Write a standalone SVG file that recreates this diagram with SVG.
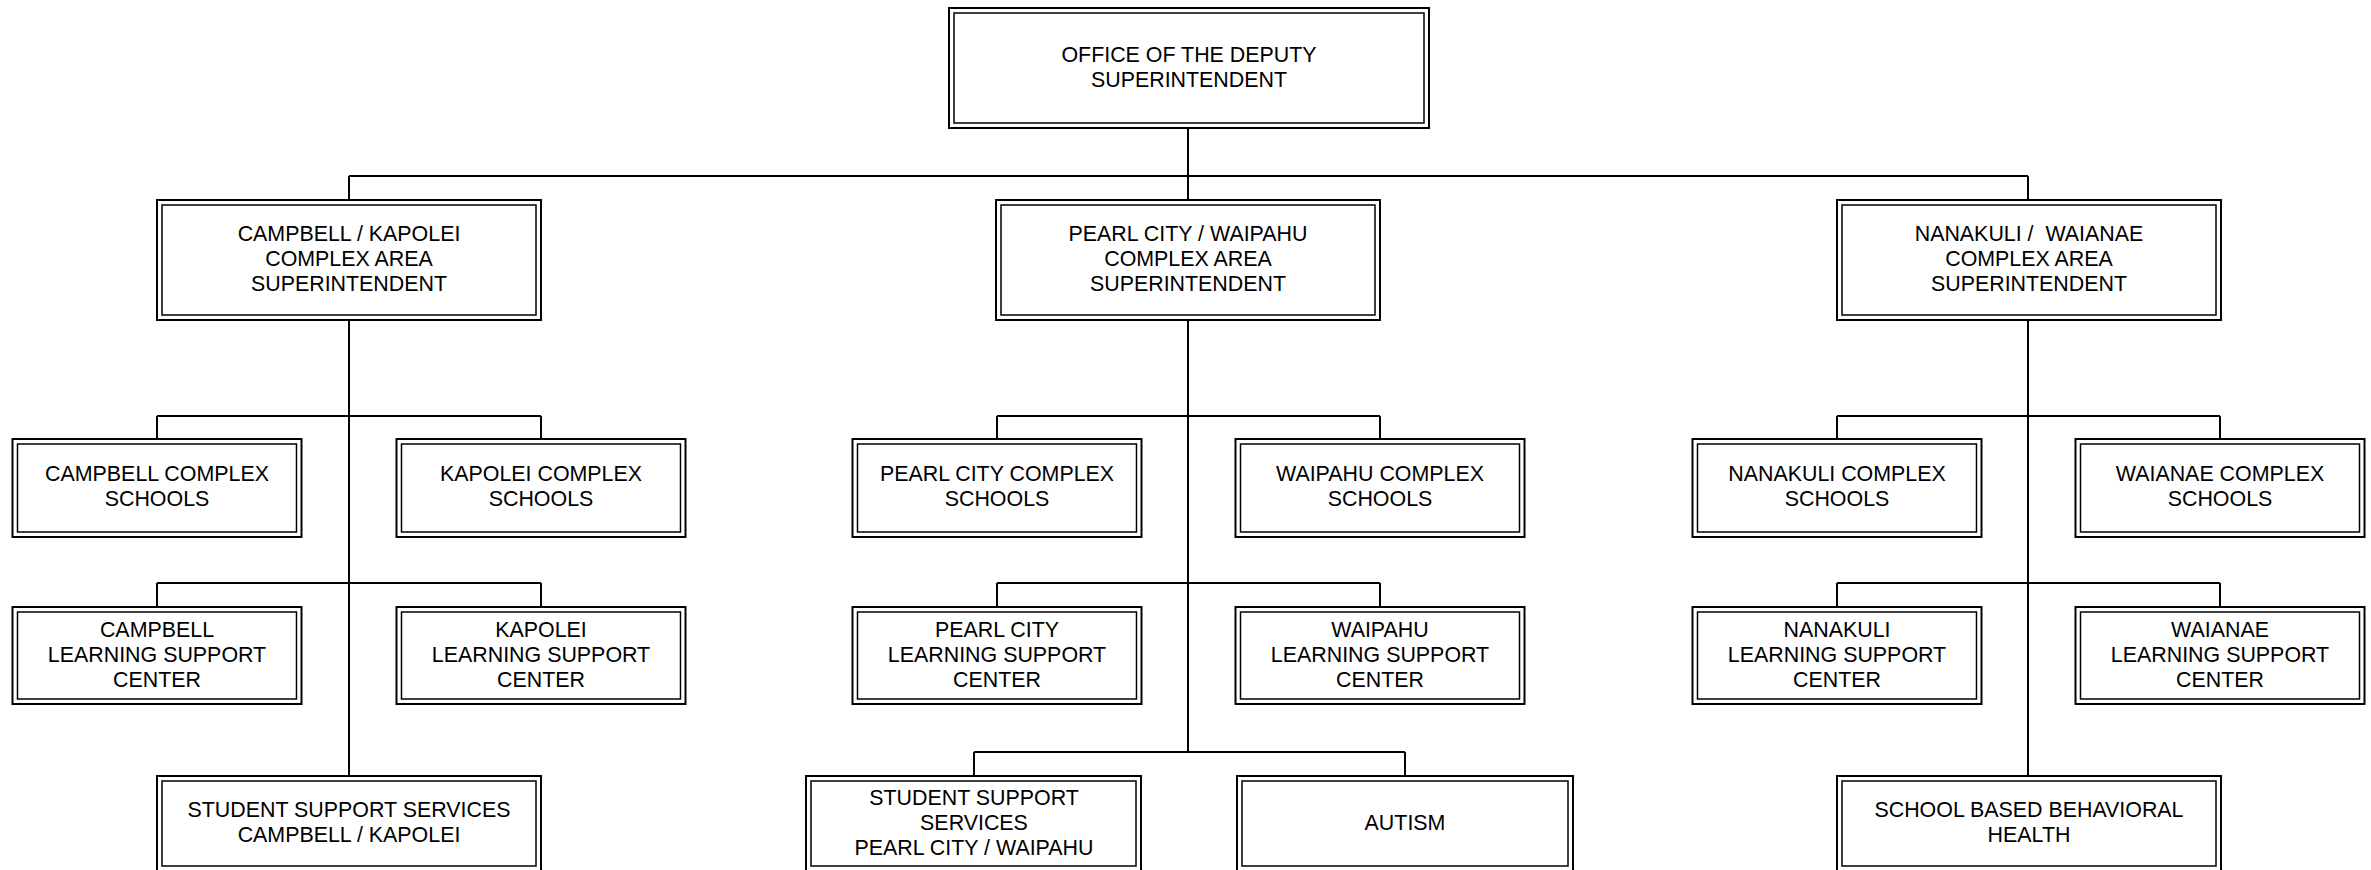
<svg xmlns="http://www.w3.org/2000/svg" width="2371" height="870" viewBox="0 0 2371 870">
<style>
.o{fill:#fff;stroke:#000;stroke-width:2}
.i{fill:none;stroke:#000;stroke-width:1.5}
.c{fill:none;stroke:#000;stroke-width:2}
text{font-family:"Liberation Sans",Arial,sans-serif;font-size:21.4px;fill:#000;text-anchor:middle}
</style>
<rect width="2371" height="870" fill="#fff"/>
<g id="connectors" class="c">
<path d="M1188 128V176M349 176H2028M349 176V200M1188 176V200M2028 176V200"/>
<path d="M349 320V776M157 416H541M157 416V439M541 416V439M157 583H541M157 583V607M541 583V607"/>
<path d="M1188 320V752M997 416H1380M997 416V439M1380 416V439M997 583H1380M997 583V607M1380 583V607M974 752H1405M974 752V776M1405 752V776"/>
<path d="M2028 320V776M1837 416H2220M1837 416V439M2220 416V439M1837 583H2220M1837 583V607M2220 583V607"/>
</g>
<g id="deputy"><rect class="o" x="949" y="8" width="480" height="120"/><rect class="i" x="954" y="13" width="470" height="110"/><text x="1189" y="62">OFFICE OF THE DEPUTY</text><text x="1189" y="87">SUPERINTENDENT</text></g>

<g id="campbell-kapolei"><rect class="o" x="157" y="200" width="384" height="120"/><rect class="i" x="162" y="205" width="374" height="110"/><text x="349" y="241">CAMPBELL / KAPOLEI</text><text x="349" y="266">COMPLEX AREA</text><text x="349" y="291">SUPERINTENDENT</text></g>
<g id="pearl-waipahu"><rect class="o" x="996" y="200" width="384" height="120"/><rect class="i" x="1001" y="205" width="374" height="110"/><text x="1188" y="241">PEARL CITY / WAIPAHU</text><text x="1188" y="266">COMPLEX AREA</text><text x="1188" y="291">SUPERINTENDENT</text></g>
<g id="nanakuli-waianae"><rect class="o" x="1837" y="200" width="384" height="120"/><rect class="i" x="1842" y="205" width="374" height="110"/><text x="2029" y="241" xml:space="preserve" style="white-space:pre">NANAKULI /  WAIANAE</text><text x="2029" y="266">COMPLEX AREA</text><text x="2029" y="291">SUPERINTENDENT</text></g>

<g id="campbell-schools"><rect class="o" x="12.5" y="439" width="289" height="98"/><rect class="i" x="17.5" y="444" width="279" height="88"/><text x="157" y="481">CAMPBELL COMPLEX</text><text x="157" y="506">SCHOOLS</text></g>
<g id="kapolei-schools"><rect class="o" x="396.5" y="439" width="289" height="98"/><rect class="i" x="401.5" y="444" width="279" height="88"/><text x="541" y="481">KAPOLEI COMPLEX</text><text x="541" y="506">SCHOOLS</text></g>
<g id="pearl-schools"><rect class="o" x="852.5" y="439" width="289" height="98"/><rect class="i" x="857.5" y="444" width="279" height="88"/><text x="997" y="481">PEARL CITY COMPLEX</text><text x="997" y="506">SCHOOLS</text></g>
<g id="waipahu-schools"><rect class="o" x="1235.5" y="439" width="289" height="98"/><rect class="i" x="1240.5" y="444" width="279" height="88"/><text x="1380" y="481">WAIPAHU COMPLEX</text><text x="1380" y="506">SCHOOLS</text></g>
<g id="nanakuli-schools"><rect class="o" x="1692.5" y="439" width="289" height="98"/><rect class="i" x="1697.5" y="444" width="279" height="88"/><text x="1837" y="481">NANAKULI COMPLEX</text><text x="1837" y="506">SCHOOLS</text></g>
<g id="waianae-schools"><rect class="o" x="2075.5" y="439" width="289" height="98"/><rect class="i" x="2080.5" y="444" width="279" height="88"/><text x="2220" y="481">WAIANAE COMPLEX</text><text x="2220" y="506">SCHOOLS</text></g>

<g id="campbell-lsc"><rect class="o" x="12.5" y="607" width="289" height="97"/><rect class="i" x="17.5" y="612" width="279" height="87"/><text x="157" y="636.5">CAMPBELL</text><text x="157" y="661.5">LEARNING SUPPORT</text><text x="157" y="686.5">CENTER</text></g>
<g id="kapolei-lsc"><rect class="o" x="396.5" y="607" width="289" height="97"/><rect class="i" x="401.5" y="612" width="279" height="87"/><text x="541" y="636.5">KAPOLEI</text><text x="541" y="661.5">LEARNING SUPPORT</text><text x="541" y="686.5">CENTER</text></g>
<g id="pearl-lsc"><rect class="o" x="852.5" y="607" width="289" height="97"/><rect class="i" x="857.5" y="612" width="279" height="87"/><text x="997" y="636.5">PEARL CITY</text><text x="997" y="661.5">LEARNING SUPPORT</text><text x="997" y="686.5">CENTER</text></g>
<g id="waipahu-lsc"><rect class="o" x="1235.5" y="607" width="289" height="97"/><rect class="i" x="1240.5" y="612" width="279" height="87"/><text x="1380" y="636.5">WAIPAHU</text><text x="1380" y="661.5">LEARNING SUPPORT</text><text x="1380" y="686.5">CENTER</text></g>
<g id="nanakuli-lsc"><rect class="o" x="1692.5" y="607" width="289" height="97"/><rect class="i" x="1697.5" y="612" width="279" height="87"/><text x="1837" y="636.5">NANAKULI</text><text x="1837" y="661.5">LEARNING SUPPORT</text><text x="1837" y="686.5">CENTER</text></g>
<g id="waianae-lsc"><rect class="o" x="2075.5" y="607" width="289" height="97"/><rect class="i" x="2080.5" y="612" width="279" height="87"/><text x="2220" y="636.5">WAIANAE</text><text x="2220" y="661.5">LEARNING SUPPORT</text><text x="2220" y="686.5">CENTER</text></g>

<g id="campbell-sss"><rect class="o" x="157" y="776" width="384" height="95"/><rect class="i" x="162" y="781" width="374" height="85"/><text x="349" y="816.5">STUDENT SUPPORT SERVICES</text><text x="349" y="841.5">CAMPBELL / KAPOLEI</text></g>
<g id="pearl-sss"><rect class="o" x="806" y="776" width="335" height="95"/><rect class="i" x="811" y="781" width="325" height="85"/><text x="974" y="804.5">STUDENT SUPPORT</text><text x="974" y="829.5">SERVICES</text><text x="974" y="854.5">PEARL CITY / WAIPAHU</text></g>
<g id="autism"><rect class="o" x="1237" y="776" width="336" height="95"/><rect class="i" x="1242" y="781" width="326" height="85"/><text x="1405" y="830">AUTISM</text></g>
<g id="sbbh"><rect class="o" x="1837" y="776" width="384" height="95"/><rect class="i" x="1842" y="781" width="374" height="85"/><text x="2029" y="816.5">SCHOOL BASED BEHAVIORAL</text><text x="2029" y="841.5">HEALTH</text></g>
</svg>
